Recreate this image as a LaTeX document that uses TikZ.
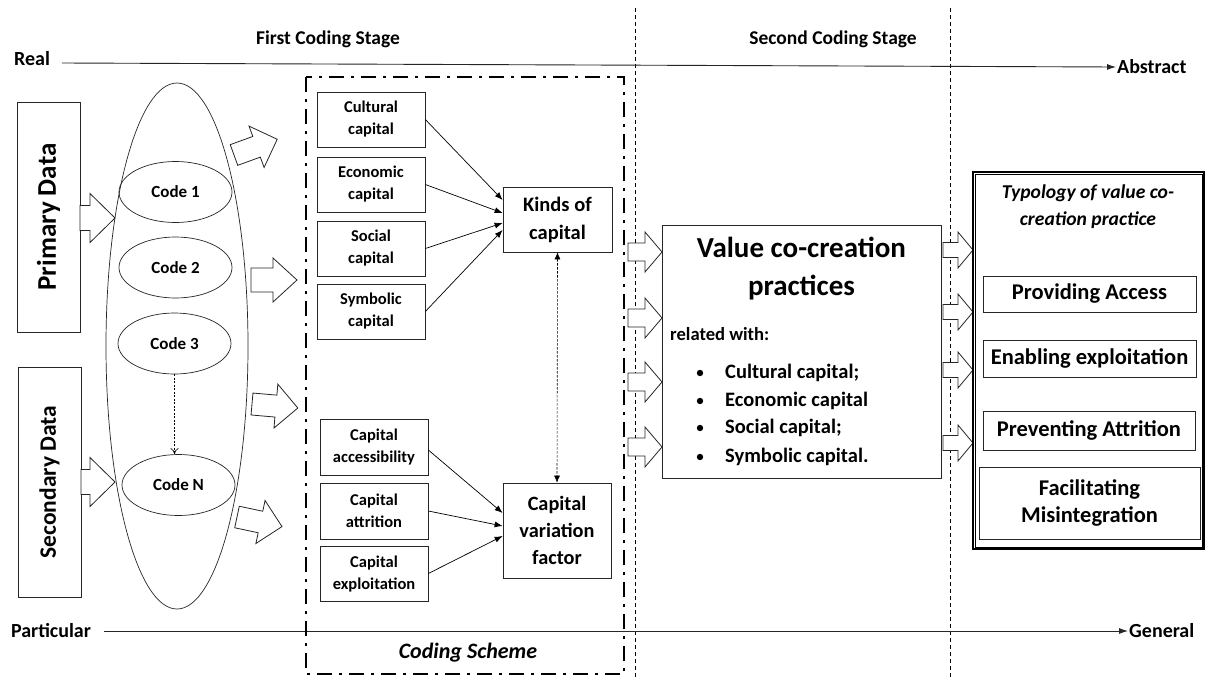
\documentclass[tikz,border=0pt]{standalone}
\usepackage{fontspec}
\setmainfont{Carlito}
\usetikzlibrary{shapes.geometric,arrows.meta,calc}
\newcommand{\fs}[2]{\fontsize{#1}{#2}\selectfont\bfseries}
\tikzset{
  barrowstyle/.style={draw=black!85, line width=0.8pt, fill=white, line join=miter},
  tbox/.style={draw=black!85, line width=0.7pt, inner sep=0pt, align=center},
  cfont/.style={font=\fs{16.5}{22}},
  codeell/.style={draw=black!85, ellipse, line width=0.7pt, inner sep=0pt, minimum width=113pt, minimum height=61pt, font=\fs{17}{20}},
  thinarrow/.style={line width=0.7pt, -{Latex[length=8pt,width=6pt]}},
  axisline/.style={line width=0.9pt, draw=black!85, -{Latex[length=9pt,width=6pt]}},
  sepline/.style={line width=0.7pt, dash pattern=on 4pt off 3pt},
  schemebox/.style={line width=2.8pt, dash pattern=on 15pt off 7pt on 3pt off 7pt},
}
% tail x, tail y, angle, length, shaft half width, head half width, head length
\newcommand{\barrow}[7]{%
  \begin{scope}[shift={(#1,#2)},rotate=#3]
    \filldraw[barrowstyle] (0,-#5) -- ({#4-#7},-#5) -- ({#4-#7},-#6) -- (#4,0)
      -- ({#4-#7},#6) -- ({#4-#7},#5) -- (0,#5) -- cycle;
  \end{scope}}
\begin{document}
\begin{tikzpicture}[x=1pt,y=-1pt]
\fill[white] (0,0) rectangle (1211,678);
\useasboundingbox (0,0) rectangle (1211,678);

% stage titles
\node[font=\fs{19.5}{24}] (st1) at (328,39) {First Coding Stage};
\node[font=\fs{19.5}{24}] (st2) at (833,39) {Second Coding Stage};

% separators
\draw[sepline] (635,8) -- (635,678);
\draw[sepline] (950,8) -- (950,678);

% axes
\node[font=\fs{20}{24}] (real) at (32,59) {Real};
\node[font=\fs{20}{24}, anchor=west, inner sep=1pt] (abs) at (1116,67) {Abstract};
\coordinate (t0) at (62,63);
\draw[axisline] (t0) -- (abs.west);
\node[font=\fs{20}{24}] (part) at (51,631) {Particular};
\node[font=\fs{20}{24}, anchor=west, inner sep=1pt] (gen) at (1128,631) {General};
\coordinate (b0) at (104,631);
\draw[axisline] (b0) -- (gen.west);

% data boxes
\node[tbox, rotate=90, minimum width=230pt, minimum height=63pt, font=\fs{27}{30}] (prim) at (48.5,217) {Primary Data};
\node[tbox, rotate=90, minimum width=230pt, minimum height=63pt, font=\fs{23.5}{28}] (sec) at (49.5,482) {Secondary Data};

% big ellipse and codes
\node[draw=black!85, ellipse, line width=0.7pt, minimum width=142pt, minimum height=526pt] (big) at (177,346) {};
\node[codeell] (c1) at (175.5,192) {Code 1};
\node[codeell] (c2) at (175.5,267.5) {Code 2};
\node[codeell] (c3) at (174.5,343.5) {Code 3};
\node[codeell] (cn) at (178.5,485) {Code N};
\draw[line width=0.6pt, dash pattern=on 2pt off 1.5pt, -{To[length=6pt,width=8pt]}] (c3.south) -- (c3.south |- cn.north);

% block arrows into ellipse
\barrow{80}{218}{0}{35}{12.5}{24.5}{25}
\barrow{81}{482}{0}{34}{12.5}{24.5}{25}

% block arrows out of ellipse
\barrow{234}{155}{20}{46}{11}{22}{22}
\barrow{251}{280}{0}{46}{12}{22}{24}
\barrow{252}{404}{-5}{46}{11}{22}{22}
\barrow{237}{517}{-12}{46}{11}{22}{22}

% coding scheme box
\draw[schemebox] (306,77) rectangle (624,674);
\node[font=\fontsize{22}{26}\selectfont\bfseries\itshape] (cs) at (468,653) {Coding Scheme};

% capital boxes
\node[tbox, cfont, minimum width=108pt, minimum height=55pt] (cult) at (371,119.5) {Cultural\\capital};
\node[tbox, cfont, minimum width=108pt, minimum height=55pt] (econ) at (371,184.5) {Economic\\capital};
\node[tbox, cfont, minimum width=108pt, minimum height=55pt] (soc) at (371,248.5) {Social\\capital};
\node[tbox, cfont, minimum width=108pt, minimum height=55pt] (symb) at (371,311.5) {Symbolic\\capital};
\node[tbox, font=\fs{20.5}{28}, minimum width=109pt, minimum height=65pt] (kinds) at (557.5,219.5) {Kinds of\\capital};

\node[tbox, cfont, minimum width=108pt, minimum height=56pt] (acc) at (374,447) {Capital\\accessibility};
\node[tbox, cfont, minimum width=108pt, minimum height=56pt] (attr) at (374,511) {Capital\\attrition};
\node[tbox, cfont, minimum width=108pt, minimum height=55pt] (expl) at (374,573.5) {Capital\\exploitation};
\node[tbox, font=\fs{20.3}{27}, minimum width=108pt, minimum height=95pt] (cvf) at (557,530.5) {Capital\\variation\\factor};

\draw[thinarrow] (cult.east) -- ([yshift=19.5pt]kinds.west);
\draw[thinarrow] (econ.east) -- ([yshift=6.5pt]kinds.west);
\draw[thinarrow] (soc.east) -- ([yshift=-3.5pt]kinds.west);
\draw[thinarrow] (symb.east) -- ([yshift=-10.5pt]kinds.west);

\draw[thinarrow] ([yshift=-3pt]acc.east) -- ([yshift=17.5pt]cvf.west);
\draw[thinarrow] (attr.east) -- ([yshift=4.5pt]cvf.west);
\draw[thinarrow] (expl.east) -- ([yshift=-5.5pt]cvf.west);

\draw[line width=0.6pt, dash pattern=on 2.5pt off 1.5pt, {Latex[length=7pt,width=6pt]}-{Latex[length=7pt,width=6pt]}] (kinds.south) -- (cvf.north);

% value co-creation box
\node[tbox, minimum width=279pt, minimum height=253pt] (val) at (801.5,351.5) {};
\node[font=\fs{29}{38}, align=center] (valt) at (801.5,269) {Value co-creation\\practices};
\node[font=\fs{18.6}{22}, anchor=west, inner sep=0pt] (rel) at (670,334) {related with:};
\foreach \yy/\tt/\nm in {373/{Cultural capital;}/b1, 401/{Economic capital}/b2, 428/{Social capital;}/b3, 457/{Symbolic capital.}/b4}{
  \fill (700,\yy) circle (3.2);
  \node[font=\fs{20.5}{24}, anchor=west, inner sep=0pt] (\nm) at (725,\yy) {\tt};
}

% block arrows into value box
\barrow{628}{252}{0}{34}{9}{20}{17}
\barrow{628}{318}{0}{34}{9}{20}{17}
\barrow{628}{382}{0}{34}{9}{20}{17}
\barrow{628}{447}{0}{34}{9}{20}{17}

% block arrows into typology
\barrow{943}{250}{0}{30}{7.5}{18}{15}
\barrow{943}{312}{0}{30}{7.5}{18}{15}
\barrow{943}{370}{0}{30}{7.5}{18}{15}
\barrow{943}{443}{0}{30}{7.5}{18}{15}

% typology box
\node[draw=black, line width=2.4pt, minimum width=231pt, minimum height=377pt, inner sep=0pt] (typo) at (1088.5,360.5) {};
\draw[line width=0.6pt] ([xshift=3pt,yshift=-3pt]typo.north west) rectangle ([xshift=-3pt,yshift=3pt]typo.south east);
\node[font=\fontsize{19.6}{27}\selectfont\bfseries\itshape, align=center] (typt) at (1088,206.5) {Typology of value co-\\creation practice};
\node[tbox, font=\fs{22.5}{27}, minimum width=213pt, minimum height=36pt] (prov) at (1089.5,294) {Providing Access};
\node[tbox, font=\fs{22.5}{27}, minimum width=213pt, minimum height=37pt] (enab) at (1089.5,358.5) {Enabling exploitation};
\node[tbox, font=\fs{22.5}{27}, minimum width=212pt, minimum height=39pt, text depth=0pt, text height=14pt, yshift=-3pt] (prev) at (1089,427.5) {};
\node[font=\fs{22.5}{27}] (prevt) at (1089,430) {Preventing Attrition};
\node[tbox, font=\fs{22.5}{27}, minimum width=221pt, minimum height=72pt] (faci) at (1089.5,503) {Facilitating\\Misintegration};
\end{tikzpicture}
\end{document}
